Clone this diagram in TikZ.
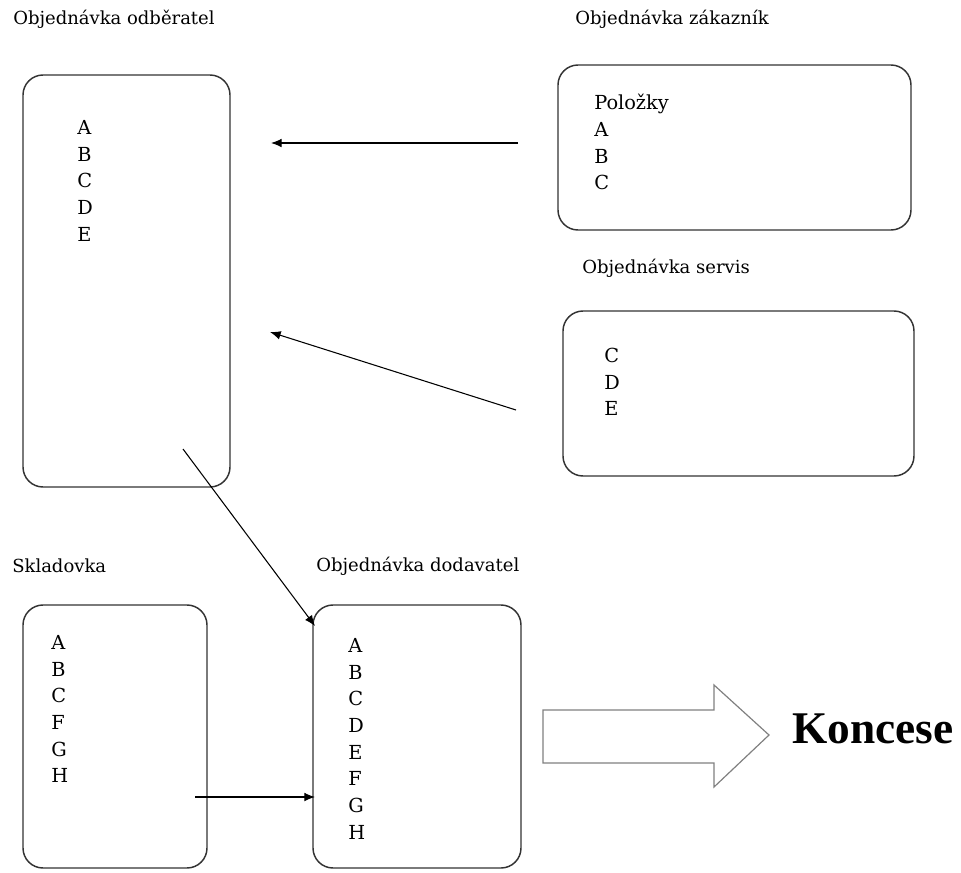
\documentclass[tikz,border=0pt]{standalone}
\usepackage{fontspec}
\usetikzlibrary{arrows.meta}
\setmainfont{DejaVu Serif}
\newfontfamily\konfont{Liberation Serif}
\begin{document}
\begin{tikzpicture}[x=0.75pt, y=-0.75pt,
		box/.style={draw=black!80, line width=1.1pt, rounded corners=15pt, inner sep=0pt},
		title/.style={anchor=west, inner sep=0pt, font=\fontsize{13.5}{20}\selectfont},
		items/.style={anchor=north west, inner sep=0pt, align=left, font=\fontsize{14.5}{20}\selectfont},
		link/.style={-{Latex[length=8pt,width=6.5pt]}, line width=0.8pt}]
		\useasboundingbox (0,0) rectangle (961,872);
		% boxes
		\node[box, minimum width=155.25pt, minimum height=309pt] (odb) at (126.5,281){};
		\node[box, minimum width=264.75pt, minimum height=123.75pt] (zak) at (734.5,147.5){};
		\node[box, minimum width=263.25pt, minimum height=123.75pt] (ser) at (738.5,393.5){};
		\node[box, minimum width=138pt, minimum height=197.25pt] (skl) at (115,736.5){};
		\node[box, minimum width=156pt, minimum height=197.25pt] (dod) at (417,736.5){};
		% titles
		\node[title] (odbtitle) at (13,19){Objednávka odběratel};
		\node[title] (zaktitle) at (575,19){Objednávka zákazník};
		\node[title] (sertitle) at (582,268){Objednávka servis};
		\node[title] (skltitle) at (12,566){Skladovka};
		\node[title] (dodtitle) at (316,566){Objednávka dodavatel};
		% items
		\node[items] (odbitems) at (77,120){A\\B\\C\\D\\E};
		\node[items] (zakitems) at (594,94){Položky\\A\\B\\C};
		\node[items] (seritems) at (604,348){C\\D\\E};
		\node[items] (sklitems) at (51,635){A\\B\\C\\F\\G\\H};
		\node[items] (doditems) at (348,638){A\\B\\C\\D\\E\\F\\G\\H};
		% arrows
		\coordinate (zakout) at (518,143);
		\coordinate (odbinA) at (271,143);
		\coordinate (serout) at (516,410);
		\coordinate (odbinB) at (270,332);
		\coordinate (odbout) at (183,449);
		\coordinate (dodinA) at (315,626);
		\coordinate (sklout) at (195,797);
		\coordinate (dodinB) at (315,797);
		\draw[link] (zakout) -- (odbinA);
		\draw[link] (serout) -- (odbinB);
		\draw[link] (odbout) -- (dodinA);
		\draw[link] (sklout) -- (dodinB);
		% big arrow
		\draw[black!50, line width=0.9pt] (543,710) -- (714,710) -- (714,685) -- (769,735) -- (714,787) -- (714,763) -- (543,763) -- cycle;
		\node[anchor=base west, inner sep=0pt, font=\konfont\bfseries\fontsize{34}{40}\selectfont] (koncese) at (792,743){Koncese};
\end{tikzpicture}
\end{document}
